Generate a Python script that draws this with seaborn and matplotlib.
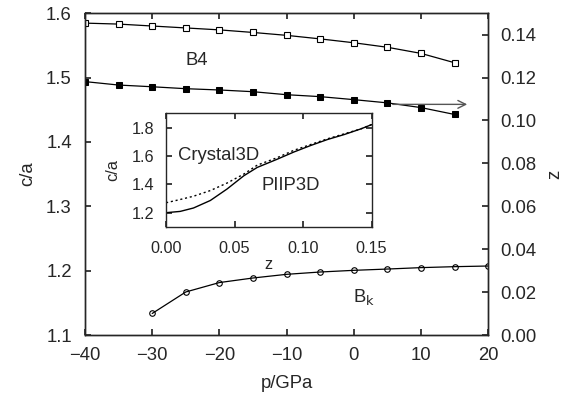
import numpy as np
import pandas as pd
import matplotlib
matplotlib.use('Agg')
import matplotlib.pyplot as plt
import seaborn as sns

# pressure grid (GPa)
p_b4 = [-40, -35, -30, -25, -20, -15, -10, -5, 0, 5, 10, 15]
p_bk = [-30, -25, -20, -15, -10, -5, 0, 5, 10, 15, 20]

# B4 c/a (left axis), open squares
ca_b4 = [1.5845, 1.583, 1.580, 1.577, 1.574, 1.570, 1.5655, 1.560, 1.554, 1.547, 1.5375, 1.523]
# B4 z (right axis), filled squares
z_b4 = [0.1181, 0.1165, 0.1157, 0.1148, 0.1142, 0.1134, 0.1120, 0.1111, 0.1097, 0.1082, 0.1060, 0.1028]
# Bk c/a (left axis), open circles
ca_bk = [1.1336, 1.1670, 1.1816, 1.1887, 1.1944, 1.1980, 1.2006, 1.2026, 1.2048, 1.2063, 1.2073]

# inset: c/a vs z
z_piip = [0.0, 0.0103, 0.0200, 0.0323, 0.0445, 0.0567, 0.0665, 0.0811, 0.0933, 0.1056, 0.1178, 0.1300, 0.1422, 0.15]
ca_piip = [1.200, 1.209, 1.233, 1.286, 1.367, 1.460, 1.519, 1.577, 1.628, 1.674, 1.716, 1.751, 1.791, 1.821]
z_cry = [0.0, 0.0103, 0.0200, 0.0323, 0.0445, 0.0567, 0.0665, 0.0811, 0.0933, 0.1056, 0.1178, 0.1422, 0.15]
ca_cry = [1.270, 1.293, 1.316, 1.356, 1.409, 1.472, 1.535, 1.588, 1.640, 1.681, 1.721, 1.791, 1.821]

main_fs = 13.3
inset_fs = 11.7

sns.set_theme(style='ticks')
plt.rcParams['font.family'] = ['Liberation Sans', 'DejaVu Sans']
plt.rcParams['font.size'] = main_fs
plt.rcParams['xtick.direction'] = 'in'
plt.rcParams['ytick.direction'] = 'in'
plt.rcParams['xtick.major.size'] = 4
plt.rcParams['ytick.major.size'] = 4
plt.rcParams['axes.linewidth'] = 1.0

fig = plt.figure(figsize=(5.63, 3.98), dpi=100)
ax = fig.add_axes([0.151, 0.158, 0.716, 0.809])
ax2 = ax.twinx()

k = dict(color='black', linewidth=0.9, estimator=None, legend=False)
sns.lineplot(x=p_b4, y=ca_b4, ax=ax, marker='s', markersize=3.8, markerfacecolor='white',
             markeredgecolor='black', markeredgewidth=0.8, **k)
sns.lineplot(x=p_bk, y=ca_bk, ax=ax, marker='o', markersize=4, markerfacecolor='none',
             markeredgecolor='black', markeredgewidth=0.8, **k)
sns.lineplot(x=p_b4, y=z_b4, ax=ax2, marker='s', markersize=4.6, markerfacecolor='black',
             markeredgecolor='black', **k)

ax.set_xlim(-40, 20)
ax.set_ylim(1.1, 1.6)
ax2.set_ylim(0.0, 0.15)
ax.set_xticks(np.arange(-40, 21, 10))
ax.set_xticklabels(['\u221240', '\u221230', '\u221220', '\u221210', '0', '10', '20'])
ax.set_yticks(np.arange(1.1, 1.61, 0.1))
ax.set_yticklabels(['1.1', '1.2', '1.3', '1.4', '1.5', '1.6'])
ax2.set_yticks(np.arange(0, 0.141, 0.02))
ax2.set_yticklabels(['%.2f' % v for v in np.arange(0, 0.141, 0.02)])
ax.tick_params(top=True, right=False, labelsize=main_fs)
ax.tick_params(axis='x', pad=8.5)
ax.tick_params(axis='y', pad=9.5)
ax2.tick_params(pad=8.5, labelsize=main_fs)
ax.set_xlabel('p/GPa', labelpad=8, fontsize=main_fs)
ax.set_ylabel('c/a', labelpad=7, fontsize=main_fs)
ax2.set_ylabel('z', labelpad=7, fontsize=main_fs)

ax.text(-23.3, 1.527, 'B4', ha='center', va='center', fontsize=main_fs)
ax.text(1.5, 1.159, r'B$_\mathrm{k}$', ha='center', va='center', fontsize=main_fs)
ax2.annotate('', xy=(17.3, 0.1075), xytext=(5.4, 0.1075),
             arrowprops=dict(arrowstyle='->', color='#555555', lw=1.0, mutation_scale=14))

# inset
ins = fig.add_axes([0.295, 0.430, 0.365, 0.285])
sns.lineplot(x=z_piip, y=ca_piip, ax=ins, color='black', linewidth=1.0, estimator=None, legend=False)
sns.lineplot(x=z_cry, y=ca_cry, ax=ins, color='black', linewidth=1.0, linestyle=(0, (1.5, 2)),
             estimator=None, legend=False)
ins.set_xlim(0, 0.15)
ins.set_ylim(1.1, 1.9)
ins.set_xticks([0, 0.05, 0.10, 0.15])
ins.set_xticklabels(['0.00', '0.05', '0.10', '0.15'])
ins.set_yticks([1.2, 1.4, 1.6, 1.8])
ins.set_yticklabels(['1.2', '1.4', '1.6', '1.8'])
ins.tick_params(top=True, right=True, labelsize=inset_fs)
ins.tick_params(axis='x', pad=10)
ins.tick_params(axis='y', pad=8.5)
ins.set_xlabel('z', labelpad=1, fontsize=inset_fs)
ins.set_ylabel('c/a', labelpad=8, fontsize=inset_fs)
ins.text(0.038, 1.6, 'Crystal3D', ha='center', va='center', fontsize=main_fs)
ins.text(0.091, 1.39, 'PIIP3D', ha='center', va='center', fontsize=main_fs)

fig.savefig('out.png', dpi=100)
